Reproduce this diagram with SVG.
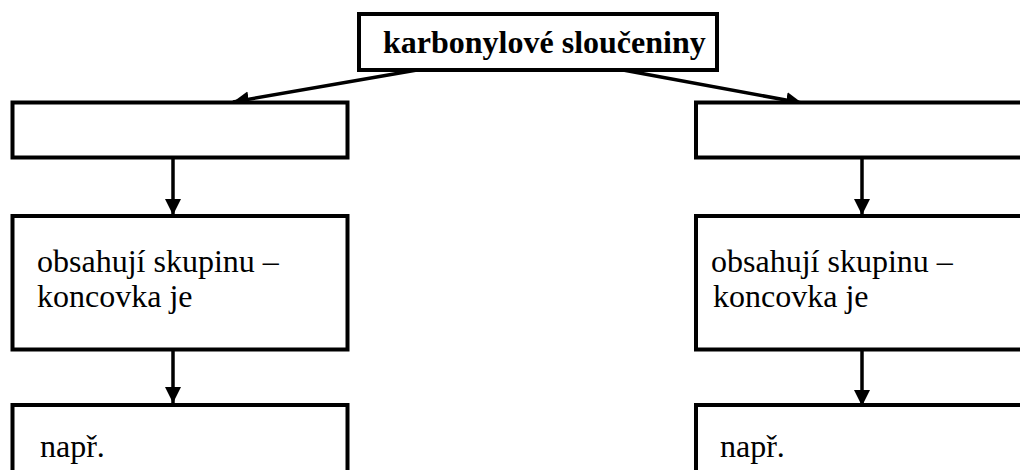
<svg xmlns="http://www.w3.org/2000/svg" width="1020" height="470" viewBox="0 0 1020 470">
<style>
.box{fill:#fff;stroke:#000;stroke-width:4}
.lbl{font-family:"Liberation Serif","Times New Roman",serif;font-size:32px;fill:#000}
.bold{font-weight:bold}
.conn{stroke:#000;stroke-width:3.5;fill:none}
</style>
<defs>
<marker id="ah" markerUnits="userSpaceOnUse" markerWidth="17" markerHeight="17" refX="16" refY="8" orient="auto" viewBox="0 0 17 16">
<path d="M0,0 L16,8 L0,16 z" fill="#000"/>
</marker>
</defs>
<rect width="1020" height="470" fill="#fff"/>
<g id="connectors">
<path class="conn" d="M417,70 L233,102" marker-end="url(#ah)"/>
<path class="conn" d="M623,70 L802,103" marker-end="url(#ah)"/>
<path class="conn" d="M173,157.5 L173,215" marker-end="url(#ah)"/>
<path class="conn" d="M173,349.5 L173,403" marker-end="url(#ah)"/>
<path class="conn" d="M862,157.5 L862,215" marker-end="url(#ah)"/>
<path class="conn" d="M862,349.5 L862,406" marker-end="url(#ah)"/>
</g>
<g id="top">
<rect class="box" x="359" y="14" width="358" height="56"/>
<text class="lbl bold" x="383" y="53">karbonylové sloučeniny</text>
</g>
<g id="left1">
<rect class="box" x="12.5" y="102.5" width="335" height="55"/>
</g>
<g id="left2">
<rect class="box" x="12.5" y="216" width="335" height="133.5"/>
<text class="lbl" x="37" y="272">obsahují skupinu –</text>
<text class="lbl" x="37" y="307">koncovka je</text>
</g>
<g id="left3">
<rect class="box" x="12.5" y="405" width="335" height="80"/>
<text class="lbl" x="40" y="457">např.</text>
</g>
<g id="right1">
<rect class="box" x="696" y="102.5" width="340" height="55"/>
</g>
<g id="right2">
<rect class="box" x="696" y="216" width="340" height="133.5"/>
<text class="lbl" x="711" y="272">obsahují skupinu –</text>
<text class="lbl" x="713" y="307">koncovka je</text>
</g>
<g id="right3">
<rect class="box" x="696" y="405" width="340" height="80"/>
<text class="lbl" x="720" y="457">např.</text>
</g>
</svg>
